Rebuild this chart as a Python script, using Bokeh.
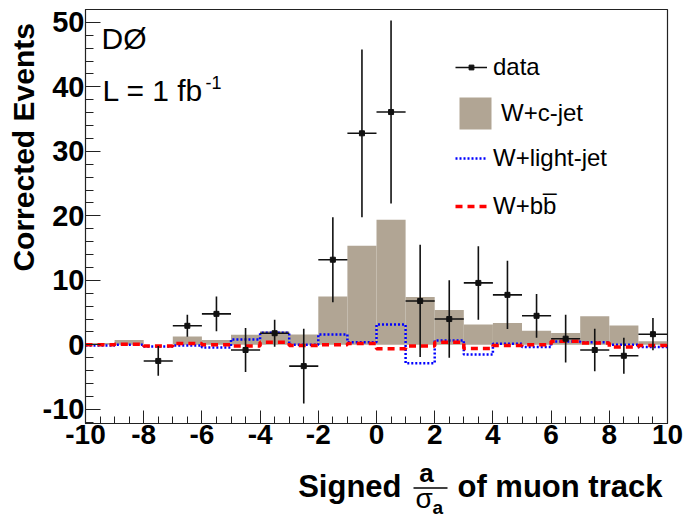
import numpy as np
from math import pi
from bokeh.plotting import figure
from bokeh.layouts import column, row
from bokeh.models import (Range1d, SingleIntervalTicker, Label, Legend, LegendItem,
                          ColumnDataSource, Arrow, PrintfTickFormatter)
from bokeh.embed import file_html
from bokeh.resources import INLINE

# ---------------- data ----------------
bin_edges = list(range(-10, 11))
wc_jet = [0.3, 0.75, 0.0, 1.3, 0.75, 1.55, 2.1, 1.6, 7.5, 15.35,
          19.4, 7.4, 5.4, 3.15, 3.4, 2.2, 1.85, 4.45, 3.0, 0.55]
w_light = [-0.1, 0.0, -0.25, -0.1, -0.4, 0.83, 1.86, 0.0, 1.6, 0.4,
           3.15, -2.85, 0.67, -1.5, 0.15, -0.35, 0.5, 0.4, 0.0, -0.35]
w_bb = [0.0, 0.1, -0.2, 0.2, 0.0, -0.2, 0.4, -0.1, 0.0, 0.2,
        -0.6, -0.2, 0.4, -0.57, -0.1, 0.0, 0.55, 0.3, -0.35, -0.1]
data_x = [-7.5, -6.5, -5.5, -4.5, -3.5, -2.5, -1.5, -0.5, 0.5,
          1.5, 2.5, 3.5, 4.5, 5.5, 6.5, 7.5, 8.5, 9.5]
data_y = [-2.5, 2.95, 4.8, -0.8, 1.8, -3.3, 13.2, 32.8, 36.1,
          6.8, 4.0, 9.6, 7.75, 4.5, 0.95, -0.8, -1.7, 1.65]
data_err = [2.3, 1.7, 2.7, 3.4, 2.1, 5.8, 6.6, 13.0, 14.2,
            8.7, 6.0, 5.7, 5.3, 3.4, 3.7, 3.3, 2.8, 2.5]
x_tick_step = 2
y_tick_step = 10

FONT = "Liberation Sans"
TOTAL_W, TOTAL_H = 684, 518
LEFT_W = 38            # strip holding the y title
MAIN_H = 456           # main figure height
MAIN_W = TOTAL_W - LEFT_W
BOT_H = TOTAL_H - MAIN_H
FL, FR, FT, FB = 47, 17, 9, 33
X0, X1, Y0, Y1 = -10, 10, -12.2, 52
fh = MAIN_H - FT - FB
MID = 0.35   # distance (in em) from the alphabetic baseline up to the text middle


def bare(width, height):
    f = figure(width=width, height=height, output_backend="svg", toolbar_location=None,
               x_range=Range1d(0, width), y_range=Range1d(0, height),
               x_axis_location=None, y_axis_location=None,
               min_border=0, min_border_left=0, min_border_right=0,
               min_border_top=0, min_border_bottom=0)
    f.outline_line_color = None
    f.grid.visible = False
    f.background_fill_color = "white"
    f.border_fill_color = "white"
    return f


p = figure(width=MAIN_W, height=MAIN_H, output_backend="svg", toolbar_location=None,
           x_range=Range1d(X0, X1), y_range=Range1d(Y0, Y1),
           min_border_left=FL, min_border_right=FR, min_border_top=FT,
           min_border_bottom=FB)
p.background_fill_color = "white"
p.border_fill_color = "white"
p.outline_line_color = "#222222"
p.outline_line_width = 1.2
p.grid.visible = False

p.xaxis.ticker = SingleIntervalTicker(interval=x_tick_step, num_minor_ticks=4)
p.yaxis.ticker = SingleIntervalTicker(interval=y_tick_step, num_minor_ticks=5)
for ax in (p.xaxis, p.yaxis):
    ax.formatter = PrintfTickFormatter(format="%d")
    ax.axis_line_color = "#222222"
    ax.major_tick_line_color = "#222222"
    ax.minor_tick_line_color = "#222222"
    ax.major_tick_out = 0
    ax.minor_tick_out = 0
    ax.major_label_text_font = FONT
    ax.major_label_text_font_style = "bold"
    ax.major_label_text_color = "black"
p.xaxis.major_label_text_font_size = "28px"
p.yaxis.major_label_text_font_size = "29px"
p.xaxis.major_tick_in = 13
p.xaxis.minor_tick_in = 7
p.yaxis.major_tick_in = 15
p.yaxis.minor_tick_in = 8
p.xaxis.major_label_standoff = 1
p.yaxis.major_label_standoff = 1

# ---------------- histograms ----------------
r_c = p.quad(left=bin_edges[:-1], right=bin_edges[1:], bottom=0, top=wc_jet,
             fill_color="#b1a594", line_color=None)
r_l = p.step(x=bin_edges, y=w_light + [w_light[-1]], mode="after",
             line_color="#0000ff", line_width=2.5, line_dash="2 2")
r_b = p.step(x=bin_edges, y=w_bb + [w_bb[-1]], mode="after",
             line_color="#ff0000", line_width=3.5, line_dash="7 5")

# ---------------- data points ----------------
dx_arr = np.array(data_x)
dy_arr = np.array(data_y)
de_arr = np.array(data_err)
src = ColumnDataSource(dict(x=dx_arr, y=dy_arr, xl=dx_arr - 0.5, xr=dx_arr + 0.5,
                            lo=dy_arr - de_arr, hi=dy_arr + de_arr))
r_h = p.segment(x0="xl", y0="y", x1="xr", y1="y", source=src,
                line_color="#111111", line_width=1.6)
r_v = p.segment(x0="x", y0="lo", x1="x", y1="hi", source=src,
                line_color="#111111", line_width=1.6)
r_d = p.scatter(x="x", y="y", source=src, size=5, marker="square",
                fill_color="#111111", line_color="#111111")


# ---------------- legend (one Legend per entry) ----------------
def add_legend(label, renderers, gw, gh, cy_img, lh=30):
    ih = max(gh, lh)
    left = 455 - (LEFT_W + FL)
    top = cy_img - FT - ih / 2
    bottom = fh - top - ih
    lg = Legend(items=[LegendItem(label=label, renderers=renderers)],
                location=(left, bottom), glyph_width=gw, glyph_height=gh,
                label_height=lh, label_standoff=6, padding=0, margin=0,
                spacing=0, background_fill_alpha=0, border_line_alpha=0,
                label_text_font=FONT, label_text_font_size="24px",
                label_text_color="black")
    p.add_layout(lg)


add_legend("data", [r_h, r_d], 32, 12, 67)
add_legend("W+c-jet", [r_c], 40, 40, 113)
add_legend("W+light-jet", [r_l], 32, 30, 158)
add_legend("W+bb\u0305", [r_b], 32, 30, 206)


def lab(fig, text, x, y, size, style="normal", align="left", angle=0):
    fig.add_layout(Label(x=x, y=y, text=text, text_font=FONT,
                         text_font_size=f"{size}px",
                         text_font_style=style, text_align=align,
                         text_baseline="middle", angle=angle,
                         text_color="black"))


def dx(px):
    return X0 + (px - LEFT_W - FL) / (MAIN_W - FL - FR) * (X1 - X0)


def dy(py):
    return Y1 - (py - FT) / fh * (Y1 - Y0)


# (image baseline positions, shifted to the text middle)
lab(p, "D\u00d8", dx(101), dy(48 - MID * 30), 30)
lab(p, "L = 1 fb", dx(102), dy(100 - MID * 30), 30)
lab(p, "-1", dx(205), dy(88 - MID * 18), 18)

# ---------------- y title strip ----------------
pl = bare(LEFT_W, MAIN_H)
lab(pl, "Corrected Events", 33 - MID * 30, MAIN_H - 15, 30, "bold", "right", pi / 2)

# ---------------- x title strip ----------------
pb = bare(TOTAL_W, BOT_H)


def by(py):
    return TOTAL_H - py


lab(pb, "Signed", 401, by(497 - MID * 31), 31, "bold", "right")
lab(pb, "a", 426, by(482 - MID * 26), 26, "bold", "center")
pb.add_layout(Arrow(x_start=413, y_start=by(487.5), x_end=447, y_end=by(487.5),
                    end=None, start=None, line_color="black", line_width=1.5))
lab(pb, "\u03c3", 415, by(508 - MID * 28), 28, "normal", "left")
lab(pb, "a", 432, by(514 - MID * 19), 19, "bold", "left")
lab(pb, "of muon track", 457, by(497 - MID * 31), 31, "bold", "left")

layout = column(row(pl, p, spacing=0), pb, spacing=0)
open("out.html", "w").write(file_html(layout, INLINE))
